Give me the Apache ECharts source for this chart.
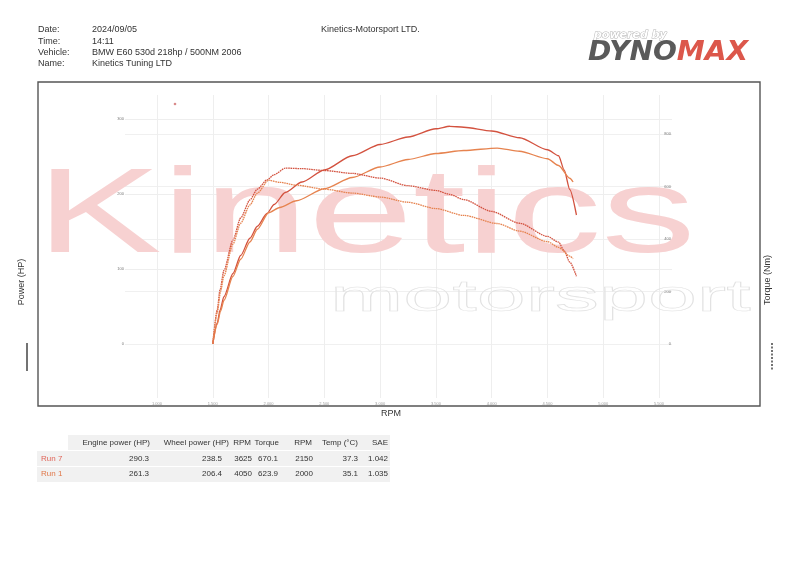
<!DOCTYPE html>
<html><head><meta charset="utf-8">
<script src="https://cdn.jsdelivr.net/npm/echarts@6/dist/echarts.min.js"></script>
<style>html,body{margin:0;padding:0;background:#fff}#c{width:800px;height:566px}</style>
</head><body><div id="c"></div>
<script>
// ---- data ----
const rpmTicks = [1000,1500,2000,2500,3000,3500,4000,4500,5000,5500];
const rpmTickLabels = ['1,000','1,500','2,000','2,500','3,000','3,500','4,000','4,500','5,000','5,500'];
const powerTicks = [0,100,200,300];
const torqueTicks = [0,200,400,600,800];

const run7Rpm    = [1500,1540,1565,1600,1681,1750,1833,1900,1986,2050,2150,2300,2500,2750,3000,3250,3500,3625,3750,4000,4250,4500,4600,4650,4700,4760];
const run7Power  = [0,28,45,63,94,118,141,157,174,186,202,216,232,251,266,276,287,290.3,289,284,275,259,251,232,206,172];
const run7Torque = [0,130,206,280,396,480,549,590,625,645,670.1,668,661,650,632,603,585,570,550,505,460,410,388,355,312,258];

const run1Rpm    = [1500,1540,1570,1600,1680,1750,1833,1900,2000,2100,2250,2500,2750,3000,3250,3500,3750,4050,4250,4500,4600,4700,4730];
const run1Power  = [0,26,44,58,90,113,136,153,175,182,191,207,222,236,246,254,258,261.3,257,247,238,221,216];
const run1Torque = [0,120,200,260,380,460,530,575,623.9,616,605,590,575,560,540,516,490,459,430,390,368,335,325];

const runNames   = ['Run 7','Run 1'];
const tableHeads = ['Engine power (HP)','Wheel power (HP)','RPM','Torque','RPM','Temp (°C)','SAE'];
const engineHP   = ['290.3','261.3'];
const wheelHP    = ['238.5','206.4'];
const powerRpm   = ['3625','4050'];
const torqueMax  = ['670.1','623.9'];
const torqueRpm  = ['2150','2000'];
const tempC      = ['37.3','35.1'];
const saeFactor  = ['1.042','1.035'];

const headerLabels = ['Date:','Time:','Vehicle:','Name:'];
const headerValues = ['2024/09/05','14:11','BMW E60 530d 218hp / 500NM 2006','Kinetics Tuning LTD'];

// ---- styles ----
const C7 = '#d3523f', C1 = '#e6834f';
const FONT = '"Liberation Sans", Arial, sans-serif';
const pairs = (xs, ys) => xs.map((x, i) => [x, ys[i]]);

const graphic = [];
// outer frame
graphic.push({type:'rect', shape:{x:38,y:82,width:722,height:324}, style:{fill:'none', stroke:'#555', lineWidth:1.4}, z:0});
// header
const hy = [30,42,53,64];
headerLabels.forEach((t,i)=>{
  graphic.push({type:'text', style:{text:t, x:38, y:hy[i], fill:'#333', font:'9px '+FONT, textVerticalAlign:'middle'}});
  graphic.push({type:'text', style:{text:headerValues[i], x:92, y:hy[i], fill:'#333', font:'9px '+FONT, textVerticalAlign:'middle'}});
});
graphic.push({type:'text', style:{text:'Kinetics-Motorsport LTD.', x:321, y:30, fill:'#333', font:'9px '+FONT, textVerticalAlign:'middle'}});
// logo
graphic.push({type:'text', style:{text:'powered by', x:594, y:35, fill:'#fff', stroke:'#b5b5b5', lineWidth:1, font:'italic bold 11px "DejaVu Sans"', textVerticalAlign:'middle'}});
graphic.push({type:'text', x:588, y:53, scaleX:1.04, style:{text:'{a|DYNO}{b|MAX}', x:0, y:0, textVerticalAlign:'middle',
  rich:{a:{fill:'#5a5a5a', font:'italic bold 27px "DejaVu Sans"'}, b:{fill:'#dc574b', font:'italic bold 27px "DejaVu Sans"'}}}});
// watermark
graphic.push({type:'text', x:36, y:219, scaleX:1.57, z:1, silent:true,
  style:{text:'Kinetics', x:0, y:0, fill:'#f7d1d1', font:'120px '+FONT, textVerticalAlign:'middle'}});
graphic.push({type:'text', x:330, y:299, scaleX:2.0, z:1, silent:true,
  style:{text:'motorsport', x:0, y:0, fill:'rgba(255,255,255,0)', stroke:'#e2e2e2', lineWidth:0.6, font:'44px '+FONT, textVerticalAlign:'middle'}});
// small marker dot
graphic.push({type:'circle', shape:{cx:175, cy:104, r:1.3}, style:{fill:'#d98a8a'}});
// axis names & legend marks
graphic.push({type:'text', x:22, y:282, rotation:Math.PI/2, style:{text:'Power (HP)', x:0, y:0, fill:'#333', font:'9px '+FONT, textAlign:'center', textVerticalAlign:'middle'}});
graphic.push({type:'text', x:768, y:280, rotation:Math.PI/2, style:{text:'Torque (Nm)', x:0, y:0, fill:'#333', font:'9px '+FONT, textAlign:'center', textVerticalAlign:'middle'}});
graphic.push({type:'text', style:{text:'RPM', x:391, y:414, fill:'#333', font:'9px '+FONT, textAlign:'center', textVerticalAlign:'middle'}});
graphic.push({type:'line', shape:{x1:27,y1:343,x2:27,y2:371}, style:{stroke:'#444', lineWidth:1.5}});
graphic.push({type:'line', shape:{x1:772,y1:343,x2:772,y2:371}, style:{stroke:'#444', lineWidth:1.5, lineDash:[2,1.5]}});
// table
graphic.push({type:'rect', shape:{x:68,y:435,width:322,height:15}, style:{fill:'#f1f1f1'}});
graphic.push({type:'rect', shape:{x:37,y:451,width:353,height:15}, style:{fill:'#f1f1f1'}});
graphic.push({type:'rect', shape:{x:37,y:467,width:353,height:15}, style:{fill:'#f1f1f1'}});
const headRight = [150,229,251,279,312,358,388];
const valRight  = [149,222,252,278,313,358,388];
const TF = '8px '+FONT;
tableHeads.forEach((t,i)=>{
  graphic.push({type:'text', style:{text:t, x:headRight[i], y:443, fill:'#333', font:TF, textAlign:'right', textVerticalAlign:'middle'}});
});
const rowY = [459,474];
const runColors = ['#e0665a','#e0784a'];
runNames.forEach((n,r)=>{
  graphic.push({type:'text', style:{text:n, x:41, y:rowY[r], fill:runColors[r], font:TF, textVerticalAlign:'middle'}});
  [engineHP,wheelHP,powerRpm,torqueMax,torqueRpm,tempC,saeFactor].forEach((col,i)=>{
    graphic.push({type:'text', style:{text:col[r], x:valRight[i], y:rowY[r], fill:'#333', font:TF, textAlign:'right', textVerticalAlign:'middle'}});
  });
});

const gTop = 95, gBot = 398, zeroY = 344;
const pxPerHP = 0.75, pxPerNm = 0.2625;
const option = {
  animation:false,
  backgroundColor:'#fff',
  grid:{left:125, right:128, top:gTop, bottom:566-gBot, containLabel:false},
  xAxis:{type:'value', min:1000-32/0.1116, max:5500+13/0.1116,
    axisLine:{show:false}, axisTick:{show:false, customValues:rpmTicks},
    axisLabel:{customValues:rpmTicks, fontSize:4, color:'#999', margin:4,
      formatter:v=>rpmTickLabels[rpmTicks.indexOf(v)] || ''},
    splitLine:{show:true, lineStyle:{color:'#eeeeee', width:1}}},
  yAxis:[
    {type:'value', position:'left', min:-(gBot-zeroY)/pxPerHP, max:(zeroY-gTop)/pxPerHP,
      axisLine:{show:false}, axisTick:{show:false, customValues:powerTicks},
      axisLabel:{customValues:powerTicks, fontSize:4, color:'#777', margin:1, formatter:v=>String(v)},
      splitLine:{show:true, lineStyle:{color:'#eeeeee', width:1}}},
    {type:'value', position:'right', min:-(gBot-zeroY)/pxPerNm, max:(zeroY-gTop)/pxPerNm,
      axisLine:{show:false}, axisTick:{show:false, customValues:torqueTicks},
      axisLabel:{customValues:torqueTicks, fontSize:4, color:'#777', margin:1, inside:true, formatter:v=>String(v)},
      splitLine:{show:true, lineStyle:{color:'#f0f0f0', width:1}}}
  ],
  series:[
    {name:'Run 7 Power', type:'line', yAxisIndex:0, data:pairs(run7Rpm, run7Power), showSymbol:false, smooth:0.25, smoothMonotone:'x', lineStyle:{color:C7, width:1.3}, z:5},
    {name:'Run 1 Power', type:'line', yAxisIndex:0, data:pairs(run1Rpm, run1Power), showSymbol:false, smooth:0.25, smoothMonotone:'x', lineStyle:{color:C1, width:1.3}, z:5},
    {name:'Run 7 Torque', type:'line', yAxisIndex:1, data:pairs(run7Rpm, run7Torque), showSymbol:false, smooth:0.25, smoothMonotone:'x', lineStyle:{color:C7, width:1.3, type:[1.6,0.7]}, z:5},
    {name:'Run 1 Torque', type:'line', yAxisIndex:1, data:pairs(run1Rpm, run1Torque), showSymbol:false, smooth:0.25, smoothMonotone:'x', lineStyle:{color:C1, width:1.3, type:[1.6,0.7]}, z:5}
  ],
  graphic:graphic
};
const chart = echarts.init(document.getElementById('c'), null, {renderer:'canvas'});
chart.setOption(option);
</script></body></html>
